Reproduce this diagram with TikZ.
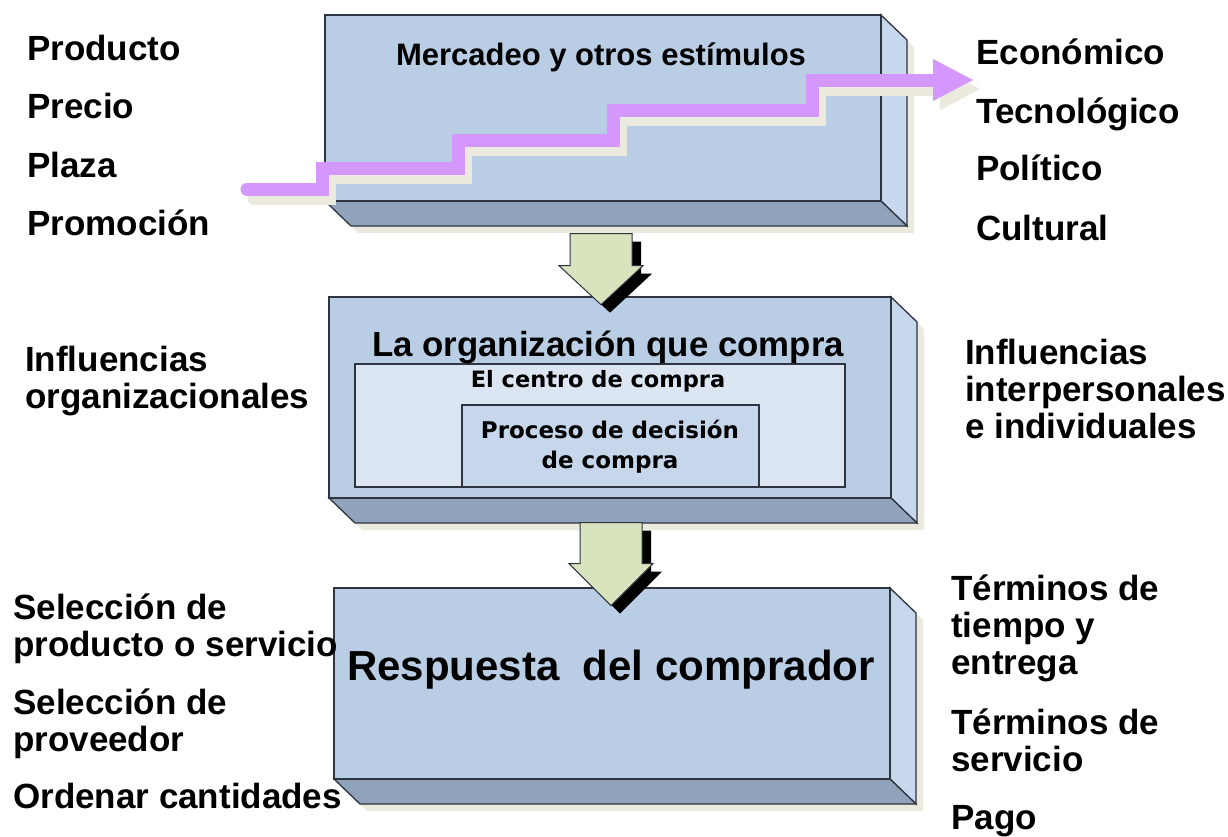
\documentclass[tikz,border=0pt]{standalone}
\usepackage{fontspec}
\setmainfont{Liberation Sans}
\newfontfamily\dejavu{DejaVu Sans}
\usetikzlibrary{calc,fit}

\definecolor{azulfrente}{HTML}{B9CDE5}
\definecolor{azullado}{HTML}{C7D7EC}
\definecolor{azulfondo}{HTML}{8FA3BA}
\definecolor{azulclaro}{HTML}{DCE6F2}
\definecolor{azulproc}{HTML}{C6D6EB}
\definecolor{beige}{HTML}{ECE9DE}
\definecolor{verde}{HTML}{D7E4BD}
\definecolor{morado}{RGB}{212,152,252}
\definecolor{borde}{HTML}{2E3440}

\tikzset{
  frentecaja/.style={draw=borde, line width=1.3pt, fill=azulfrente, inner sep=0pt},
  ladocaja/.style={draw=borde, line width=1.3pt, fill=azullado},
  fondocaja/.style={draw=borde, line width=1.3pt, fill=azulfondo},
  sombracaja/.style={fill=beige},
  flecha/.style={draw=borde, line width=1pt, fill=verde},
  etiq/.style={anchor=base west, align=left, inner sep=0pt,
    font=\fontsize{35}{37}\selectfont\bfseries},
  titulo/.style={anchor=base, inner sep=0pt}
}

% caja en relieve: nombre, esquina sup. izq. (#2,#3), esquina inf. der. (#4,#5)
\newcommand{\cajatres}[5]{%
  \fill[sombracaja] (#2+7,#3+7) -- (#4+7,#3+7) -- (#4+\dx+7,#3+\dy+7)
    -- (#4+\dx+7,#5+\dy+7) -- (#2+\dx+7,#5+\dy+7) -- (#2+7,#5+7) -- cycle;
  \draw[ladocaja] (#4,#3) -- (#4+\dx,#3+\dy) -- (#4+\dx,#5+\dy) -- (#4,#5) -- cycle;
  \draw[fondocaja] (#2,#5) -- (#4,#5) -- (#4+\dx,#5+\dy) -- (#2+\dx,#5+\dy) -- cycle;
  \node[frentecaja, fit={(#2,#3) (#4,#5)}] (#1) {};
}

% flecha de bloque: arranque, largo del cuerpo, largo de la punta
\newcommand{\flechabloque}[3]{%
  \fill[black] ($(#1)+(9,8)$) ++(-31,0) -- ++(62,0) -- ++(0,#2) -- ++(11,0)
    -- ++(-42,#3) -- ++(-42,-#3) -- ++(11,0) -- cycle;
  \draw[flecha] (#1) ++(-31,0) -- ++(62,0) -- ++(0,#2) -- ++(11,0)
    -- ++(-42,#3) -- ++(-42,-#3) -- ++(11,0) -- cycle;
}

\begin{document}
\begin{tikzpicture}[x=1pt, y=-1pt]
  \def\dx{26}
  \def\dy{25}
  \useasboundingbox[fill=white] (0,0) rectangle (1228,836);

  \cajatres{merc}{325}{15}{881}{201}
  \cajatres{org}{329}{297}{891}{498}
  \cajatres{resp}{334}{588}{890}{779}

  % centro de compra
  \node[draw=borde, line width=1.1pt, fill=azulclaro, inner sep=0pt,
    fit={(355,364) (845,487)}] (centro) {};
  \node[draw=borde, line width=1.1pt, fill=azulproc, inner sep=0pt,
    fit={(462,405) (759,487)}] (proc) {};

  % escalera
  \draw[beige, line width=13pt, line cap=round]
    (254,198) -| (329,177) -| (465,149) -| (620,119) -| (819,89) -- (942,89);
  \fill[beige] (940,68) -- (980,89) -- (940,110) -- cycle;
  \draw[morado, line width=13pt, line cap=round]
    (247,189) coordinate (ini) -| (322,168) -| (458,140) -| (613,110) -| (812,80) -- (935,80);
  \fill[morado] (933,59) -- (973,80) coordinate (fin) -- (933,101) -- cycle;

  % flechas entre cajas
  \coordinate (f1) at ($(merc.south)+(-2,32)$);
  \coordinate (f2) at ($(org.south)+(1,24)$);
  \flechabloque{f1}{32}{39}
  \flechabloque{f2}{41}{42}

  % textos de las cajas
  \node[titulo, font=\fontsize{31}{33}\selectfont\bfseries] (tmerc) at (601,65)
    {Mercadeo y otros estímulos};
  \node[titulo, font=\fontsize{34.8}{36}\selectfont\bfseries] (torg) at (608,356)
    {La organización que compra};
  \node[titulo, font=\dejavu\fontsize{22.5}{24}\selectfont\bfseries] (tcentro) at (598,387)
    {El centro de compra};
  \node[titulo, align=center, font=\dejavu\fontsize{23}{30}\selectfont\bfseries] (tproc) at (610,468)
    {Proceso de decisión\\de compra};
  \node[titulo, font=\fontsize{42}{44}\selectfont\bfseries] (tresp) at (611,680)
    {Respuesta\ \ del comprador};

  % etiquetas
  \foreach \t/\yy [count=\i] in {Producto/60, Precio/118, Plaza/177, Promoción/235}
    \node[etiq] (mix\i) at (27,\yy) {\t};
  \foreach \t/\yy [count=\i] in {Económico/64, Tecnológico/123, Político/180, Cultural/240}
    \node[etiq] (ent\i) at (976,\yy) {\t};
  \node[etiq] (infl1) at (25,408) {Influencias\\organizacionales};
  \node[etiq] (infl2) at (965,438) {Influencias\\interpersonales\\e individuales};
  \foreach \t/\yy [count=\i] in {{Selección de\\producto o servicio}/656,
      {Selección de\\proveedor}/751, {Ordenar cantidades}/808}
    \node[etiq] (dec\i) at (13,\yy) {\t};
  \foreach \t/\yy [count=\i] in {{Términos de\\tiempo y\\entrega}/674,
      {Términos de\\servicio}/771, {Pago}/829}
    \node[etiq] (ter\i) at (951,\yy) {\t};
\end{tikzpicture}
\end{document}
